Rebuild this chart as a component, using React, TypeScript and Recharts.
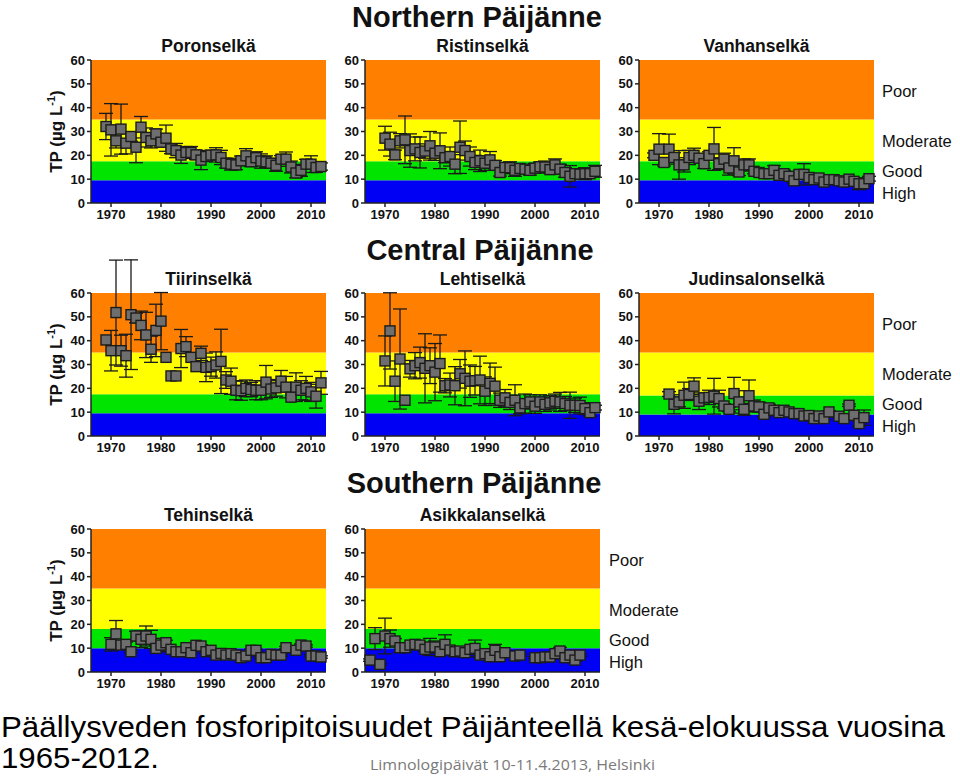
import React from "react";
import {
  ErrorBar,
  ReferenceArea,
  Scatter,
  ScatterChart,
  XAxis,
  YAxis,
} from "recharts";

// [year, TP µg/L, error]
const poronselka = [
  [1969, 32.1, 5.5], [1970, 30.7, 11], [1971, 26.1, 3], [1972, 31.0, 10.5], [1973, 25.1, 4.5],
  [1974, 27.9, 2], [1975, 23.4, 6.5], [1976, 31.8, 4.5], [1977, 27.5, 4], [1978, 26.1, 3],
  [1979, 29.0, 2], [1980, 25.5, 2], [1981, 27.2, 5.5], [1982, 22.7, 2], [1983, 22.0, 3],
  [1984, 20.1, 3.5], [1985, 21.2, 2.5], [1986, 21.2, 2.5], [1987, 20.2, 2], [1988, 18.0, 4],
  [1989, 19.5, 2], [1990, 20.1, 2], [1991, 20.2, 3], [1992, 19.1, 3], [1993, 16.7, 2],
  [1994, 16.3, 2.5], [1995, 16.0, 2], [1996, 17.7, 2], [1997, 19.8, 3], [1998, 17.3, 2],
  [1999, 19.0, 2.5], [2000, 17.6, 3], [2001, 17.3, 2.5], [2002, 16.7, 2], [2003, 15.8, 2.5],
  [2004, 18.4, 1.5], [2005, 18.4, 3], [2006, 15.1, 2.5], [2007, 12.6, 2], [2008, 13.7, 2.5],
  [2009, 16.3, 2], [2010, 16.3, 3.5], [2011, 14.9, 2], [2012, 15.3, 1.5],
];

const ristinselka = [
  [1970, 27.2, 5], [1971, 24.7, 5], [1972, 20.2, 2], [1973, 26.1, 3], [1974, 26.5, 10],
  [1975, 22.0, 7], [1976, 22.7, 5], [1977, 21.2, 6.5], [1978, 21.8, 3], [1979, 24.0, 6],
  [1980, 20.9, 3], [1981, 21.9, 7.5], [1982, 19.0, 2], [1983, 19.5, 4], [1984, 16.3, 4],
  [1985, 23.4, 11], [1986, 22.0, 4], [1987, 19.5, 4], [1988, 17.0, 3], [1989, 17.7, 4.5],
  [1990, 16.7, 3], [1991, 18.1, 3.5], [1992, 15.8, 2], [1993, 12.8, 1.5], [1994, 14.9, 2],
  [1995, 14.8, 2.5], [1996, 13.7, 2.5], [1997, 14.5, 1.5], [1998, 14.2, 1], [1999, 13.7, 2],
  [2000, 14.6, 2], [2001, 15.2, 2], [2002, 15.1, 2.5], [2003, 14.0, 1.5], [2004, 16.0, 2.5],
  [2005, 14.2, 2], [2006, 12.8, 2], [2007, 11.2, 4.5], [2008, 12.3, 1], [2009, 12.1, 1],
  [2010, 12.3, 2.5], [2011, 12.3, 1], [2012, 13.3, 2.5],
];

const vanhanselka = [
  [1969, 20.0, 1], [1970, 22.6, 6.5], [1971, 17.0, 1.5], [1972, 22.6, 6.3], [1973, 19.1, 2],
  [1974, 16.0, 6], [1975, 16.0, 3], [1976, 19.1, 3], [1977, 20.0, 3], [1978, 18.8, 1.5],
  [1979, 16.5, 2], [1980, 20.0, 1.5], [1981, 22.7, 9], [1982, 16.5, 2.5], [1983, 18.4, 2.5],
  [1984, 14.7, 3], [1985, 17.7, 5.5], [1986, 13.0, 1.5], [1987, 16.0, 2.5], [1988, 16.0, 2.5],
  [1989, 13.3, 1], [1990, 12.8, 1], [1991, 12.3, 1], [1992, 12.3, 1], [1993, 13.7, 2],
  [1994, 11.6, 1], [1995, 12.3, 1.5], [1996, 11.2, 1], [1997, 9.3, 1], [1998, 12.0, 1],
  [1999, 12.0, 4.5], [2000, 10.7, 1], [2001, 9.8, 1], [2002, 10.5, 1], [2003, 8.8, 1],
  [2004, 9.8, 1], [2005, 9.8, 1], [2006, 9.3, 1], [2007, 8.8, 1], [2008, 10.0, 1],
  [2009, 9.1, 1], [2010, 8.1, 2.5], [2011, 8.1, 1], [2012, 10.2, 1],
];

const tiirinselka = [
  [1969, 40.3, 0], [1970, 35.8, 8.5], [1971, 51.8, 22], [1972, 35.8, 6.5], [1973, 33.7, 9],
  [1974, 50.9, 23], [1975, 49.5, 2], [1976, 46.4, 6], [1977, 42.4, 9.5], [1978, 36.4, 5.5],
  [1979, 44.3, 11], [1980, 48.2, 12], [1981, 33.0, 0], [1982, 25.2, 0], [1983, 25.2, 0],
  [1984, 36.7, 8], [1985, 37.5, 4.2], [1986, 33.0, 0], [1987, 29.1, 0], [1988, 34.7, 3],
  [1989, 28.8, 6], [1990, 29.1, 4], [1991, 29.8, 5.5], [1992, 31.3, 13.5], [1993, 23.5, 3.5],
  [1994, 23.0, 5.5], [1995, 19.2, 4], [1996, 19.0, 4], [1997, 20.0, 3.5], [1998, 19.5, 3],
  [1999, 19.2, 4], [2000, 19.2, 4], [2001, 22.6, 7], [2002, 19.7, 3.5], [2003, 20.2, 3.5],
  [2004, 23.0, 4.5], [2005, 20.5, 4.5], [2006, 16.3, 0], [2007, 20.5, 6], [2008, 19.2, 4],
  [2009, 20.0, 5], [2010, 18.5, 4], [2011, 16.7, 5], [2012, 22.3, 4.8],
];

const lehtiselka = [
  [1970, 31.5, 10.5], [1971, 44.1, 16], [1972, 23.0, 8.5], [1973, 32.3, 21], [1974, 15.0, 0],
  [1975, 28.2, 3.5], [1976, 29.5, 5.5], [1977, 30.8, 6.5], [1978, 28.4, 14.5], [1979, 29.5, 7.5],
  [1980, 26.8, 12], [1981, 30.4, 12], [1982, 21.1, 3], [1983, 21.4, 5], [1984, 21.1, 8],
  [1985, 26.1, 6], [1986, 24.2, 11.5], [1987, 23.0, 6.8], [1988, 23.2, 6], [1989, 23.5, 10],
  [1990, 18.8, 6], [1991, 22.1, 8.5], [1992, 20.9, 8], [1993, 15.0, 3], [1994, 16.0, 3.5],
  [1995, 14.1, 3], [1996, 15.0, 6.5], [1997, 11.8, 2.5], [1998, 13.6, 4], [1999, 14.3, 3],
  [2000, 12.5, 3], [2001, 14.3, 3], [2002, 13.3, 3], [2003, 13.9, 3], [2004, 14.6, 3],
  [2005, 14.3, 4], [2006, 13.6, 3], [2007, 12.9, 5.5], [2008, 12.9, 3], [2009, 12.8, 3.5],
  [2010, 11.5, 2.5], [2011, 9.8, 1.5], [2012, 11.9, 1],
];

const judinsalonselka = [
  [1972, 17.6, 1], [1973, 13.3, 4], [1974, 14.3, 2], [1975, 17.1, 5.5], [1976, 17.4, 2.5],
  [1977, 20.9, 3.5], [1978, 14.6, 3.5], [1979, 16.0, 1.5], [1980, 16.2, 3], [1981, 16.7, 7.5],
  [1982, 15.7, 3.5], [1983, 12.6, 1], [1984, 11.2, 1], [1985, 17.8, 6.8], [1986, 14.3, 4.7],
  [1987, 11.2, 2.5], [1988, 16.9, 6.6], [1989, 12.6, 2.5], [1990, 12.2, 2], [1991, 9.1, 1],
  [1992, 11.8, 1.5], [1993, 10.8, 1], [1994, 9.8, 0.5], [1995, 10.8, 1], [1996, 10.1, 0.5],
  [1997, 9.4, 0.5], [1998, 9.4, 0.5], [1999, 8.4, 0.5], [2000, 8.6, 0.5], [2001, 7.3, 0.5],
  [2002, 8.4, 0.5], [2003, 7.3, 0.5], [2004, 10.1, 0.5], [2006, 8.3, 0.5], [2007, 7.3, 0.5],
  [2008, 12.9, 0.5], [2009, 8.7, 0.5], [2010, 5.2, 1], [2011, 7.7, 3.2],
];

const tehinselka = [
  [1970, 11.6, 2.8], [1971, 16.0, 5.6], [1972, 11.3, 0.5], [1973, 11.6, 1], [1974, 8.5, 0.5],
  [1975, 15.1, 2], [1976, 13.7, 3.5], [1977, 15.1, 4.2], [1978, 13.7, 3.8], [1979, 9.9, 1],
  [1980, 11.3, 2.8], [1981, 12.3, 1], [1982, 9.5, 0.5], [1983, 8.5, 0.5], [1984, 8.5, 0.5],
  [1985, 10.2, 0.5], [1986, 8.1, 0.5], [1987, 11.2, 0.5], [1988, 10.9, 0.5], [1989, 8.5, 0.5],
  [1990, 9.1, 0.5], [1991, 7.1, 0.5], [1992, 7.8, 0.5], [1993, 7.1, 0.5], [1994, 7.7, 0.5],
  [1995, 7.1, 0.5], [1996, 6.0, 0.5], [1997, 6.7, 0.5], [1998, 9.1, 0.5], [1999, 9.1, 0.5],
  [2000, 6.0, 0.5], [2001, 6.0, 0.5], [2002, 7.4, 0.5], [2003, 7.1, 0.5], [2004, 7.1, 0.5],
  [2005, 10.2, 0.5], [2007, 9.1, 0.5], [2008, 11.3, 0.5], [2009, 10.9, 0.5], [2010, 6.7, 0.5],
  [2011, 6.7, 0.5], [2012, 6.3, 0.5],
];

const asikkalanselka = [
  [1967, 5.0, 0.5], [1968, 14.0, 4.6], [1969, 3.2, 0.5], [1970, 15.1, 7.5], [1971, 14.0, 3.6],
  [1972, 13.0, 1], [1973, 10.2, 2], [1974, 10.2, 2], [1975, 11.3, 0.5], [1976, 11.6, 0.5],
  [1977, 11.3, 1], [1978, 9.5, 1], [1979, 10.5, 3.6], [1980, 10.5, 2.5], [1981, 8.5, 0.5],
  [1982, 11.6, 4], [1983, 9.2, 1], [1984, 8.5, 2], [1985, 8.8, 0.5], [1986, 8.1, 0.5],
  [1987, 9.5, 0.5], [1988, 9.9, 3.5], [1989, 7.1, 0.5], [1990, 7.7, 0.5], [1991, 6.4, 0.5],
  [1992, 9.1, 2.5], [1993, 6.4, 0.5], [1994, 8.1, 0.5], [1996, 6.7, 0.5], [1997, 7.1, 0.5],
  [2000, 6.0, 0.5], [2001, 6.0, 0.5], [2002, 6.3, 0.5], [2003, 6.3, 0.5], [2004, 7.7, 0.5],
  [2005, 8.8, 1.5], [2006, 6.0, 0.5], [2007, 7.1, 0.5], [2008, 5.0, 0.5], [2009, 7.1, 0.5],
];

// class limits: High / Good / Moderate / Poor
const limitsNorth = [9.5, 17.5, 35, 60];
const limitsJudin = [9, 17, 35, 60];
const limitsSouth = [10, 18, 35, 60];

const classNames = ["Poor", "Moderate", "Good", "High"];
const yearTicks = [1970, 1980, 1990, 2000, 2010];
const tpTicks = [0, 10, 20, 30, 40, 50, 60];

const BAND_COLORS = ["#0000F5", "#00E400", "#FFFF00", "#FF8000"];
const FONT = "'Liberation Sans', Arial, sans-serif";
const PLOT_W = 235;
const PLOT_H = 143;
const COLS = [91, 365, 639];
const ROWS = [60, 293, 529];

const Square = (props: any) => {
  const { cx, cy } = props;
  if (cx == null || cy == null) return null;
  return (
    <rect
      x={cx - 5}
      y={cy - 5}
      width={10}
      height={10}
      fill="#6e6e6e"
      stroke="#1c1c1c"
      strokeWidth={1.4}
    />
  );
};

interface PanelProps {
  data: number[][];
  limits: number[];
  left: number;
  top: number;
}

function Panel({ data, limits, left, top }: PanelProps) {
  const rows = data.map(([year, tp, err]) => ({ year, tp, err }));
  const tick = { fill: "#111", fontSize: 13, fontWeight: 700, fontFamily: FONT };
  return (
    <div style={{ position: "absolute", left: left - 30, top: top - 40 }}>
      <ScatterChart
        width={30 + PLOT_W + 6}
        height={40 + PLOT_H + 30}
        margin={{ top: 40, right: 6, bottom: 0, left: 0 }}
      >
        {limits.map((hi, i) => (
          <ReferenceArea
            key={hi}
            y1={i === 0 ? 0 : limits[i - 1]}
            y2={hi}
            fill={BAND_COLORS[i]}
            fillOpacity={1}
            stroke="none"
          />
        ))}
        <XAxis
          type="number"
          dataKey="year"
          domain={[1966, 2013]}
          ticks={yearTicks}
          allowDataOverflow
          height={30}
          tick={tick}
          tickSize={4}
          tickMargin={3}
          axisLine={{ stroke: "#222", strokeWidth: 1.5 }}
          tickLine={{ stroke: "#222", strokeWidth: 1.5 }}
        />
        <YAxis
          type="number"
          dataKey="tp"
          domain={[0, 60]}
          ticks={tpTicks}
          allowDataOverflow
          width={30}
          tick={tick}
          tickSize={4}
          tickMargin={2}
          axisLine={{ stroke: "#222", strokeWidth: 1.5 }}
          tickLine={{ stroke: "#222", strokeWidth: 1.5 }}
        />
        <Scatter
          data={rows}
          shape={Square}
          className="tp-points"
          isAnimationActive={false}
        >
          <ErrorBar
            dataKey="err"
            direction="y"
            width={7}
            stroke="#1a1a1a"
            strokeWidth={1.3}
          />
        </Scatter>
      </ScatterChart>
    </div>
  );
}

const panels = [
  { title: "Poronselkä", data: poronselka, limits: limitsNorth, col: 0, row: 0 },
  { title: "Ristinselkä", data: ristinselka, limits: limitsNorth, col: 1, row: 0 },
  { title: "Vanhanselkä", data: vanhanselka, limits: limitsNorth, col: 2, row: 0 },
  { title: "Tiirinselkä", data: tiirinselka, limits: limitsNorth, col: 0, row: 1 },
  { title: "Lehtiselkä", data: lehtiselka, limits: limitsNorth, col: 1, row: 1 },
  { title: "Judinsalonselkä", data: judinsalonselka, limits: limitsJudin, col: 2, row: 1 },
  { title: "Tehinselkä", data: tehinselka, limits: limitsSouth, col: 0, row: 2 },
  { title: "Asikkalanselkä", data: asikkalanselka, limits: limitsSouth, col: 1, row: 2 },
];

const headers = [
  { text: "Northern Päijänne", x: 477, y: 27 },
  { text: "Central Päijänne", x: 480, y: 260 },
  { text: "Southern Päijänne", x: 474, y: 493 },
];

const legendRows = [
  { x: 882, top: ROWS[0] },
  { x: 882, top: ROWS[1] },
  { x: 609, top: ROWS[2] },
];
const legendOffsets = [37, 87, 117, 139];

export default function App() {
  return (
    <div
      style={{
        position: "absolute",
        left: 0,
        top: 0,
        width: 960,
        height: 777,
        background: "#fff",
        fontFamily: FONT,
        overflow: "hidden",
      }}
    >
      <style>{".tp-points, .tp-points g { clip-path: none !important; }"}</style>
      {panels.map((p) => (
        <Panel
          key={p.title}
          data={p.data}
          limits={p.limits}
          left={COLS[p.col]}
          top={ROWS[p.row]}
        />
      ))}
      <svg
        width={960}
        height={777}
        style={{ position: "absolute", left: 0, top: 0, pointerEvents: "none" }}
      >
        {headers.map((h) => (
          <text
            key={h.text}
            x={h.x}
            y={h.y}
            textAnchor="middle"
            fontSize={29}
            fontWeight={700}
            fontFamily={FONT}
            fill="#111"
          >
            {h.text}
          </text>
        ))}
        {panels.map((p) => (
          <text
            key={p.title}
            x={COLS[p.col] + PLOT_W / 2}
            y={ROWS[p.row] - 8}
            textAnchor="middle"
            fontSize={17.5}
            fontWeight={700}
            fontFamily={FONT}
            fill="#111"
          >
            {p.title}
          </text>
        ))}
        {ROWS.map((top) => {
          const cy = top + PLOT_H / 2;
          return (
            <text
              key={top}
              x={62}
              y={cy}
              transform={`rotate(-90 62 ${cy})`}
              textAnchor="middle"
              fontSize={17}
              fontWeight={700}
              fontFamily={FONT}
              fill="#111"
            >
              TP (µg L
              <tspan dy={-7} fontSize={11}>
                -1
              </tspan>
              <tspan dy={7}>)</tspan>
            </text>
          );
        })}
        {legendRows.map((r) =>
          classNames.map((name, i) => (
            <text
              key={`${r.top}-${name}`}
              x={r.x}
              y={r.top + legendOffsets[i]}
              fontSize={16.5}
              fontFamily={FONT}
              fill="#111"
            >
              {name}
            </text>
          ))
        )}
        <text
          x={1}
          y={737}
          fontSize={29}
          fontFamily={FONT}
          textLength={944}
          lengthAdjust="spacingAndGlyphs"
          fill="#000"
        >
          Päällysveden fosforipitoisuudet Päijänteellä kesä-elokuussa vuosina
        </text>
        <text
          x={1}
          y={768}
          fontSize={29}
          fontFamily={FONT}
          textLength={158}
          lengthAdjust="spacingAndGlyphs"
          fill="#000"
        >
          1965-2012.
        </text>
        <text
          x={370}
          y={770}
          fontSize={15}
          fontFamily="'Open Sans', sans-serif"
          textLength={285}
          lengthAdjust="spacingAndGlyphs"
          fill="#7a7a7a"
        >
          Limnologipäivät 10-11.4.2013, Helsinki
        </text>
      </svg>
    </div>
  );
}
